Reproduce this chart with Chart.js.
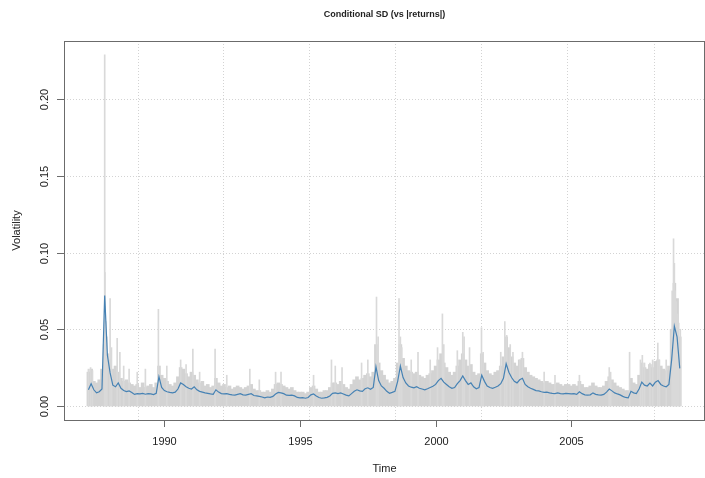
<!DOCTYPE html>
<html>
<head>
<meta charset="utf-8">
<script src="https://cdn.jsdelivr.net/npm/chart.js@4.4.1/dist/chart.umd.min.js"></script>
<style>
  html, body { margin: 0; padding: 0; background: #fff; }
</style>
</head>
<body>
<canvas id="vol-chart" width="705" height="478"></canvas>
<script>
const chartTitle = 'Conditional SD (vs |returns|)';
const xTitle = 'Time';
const yTitle = 'Volatility';

const xTickYears = [1990, 1995, 2000, 2005];
const yTickValues = [0, 0.05, 0.10, 0.15, 0.20];
const yTickLabels = ['0.00', '0.05', '0.10', '0.15', '0.20'];
const gridYears = [1989.02, 1992.17, 1995.34, 1998.52, 2001.69, 2004.85, 2008.04];

// sampled every 0.1 year from 1987.2
const startYear = 1987.2;
const stepYear = 0.1;

// conditional sigma (blue)
const sigma = [
  0.0105, 0.0145, 0.0105, 0.0085, 0.0092, 0.0110, 0.0720, 0.0330,
  0.0215, 0.0135, 0.0125, 0.0150, 0.0115, 0.0100, 0.0093, 0.0098, 0.0088, 0.0075,
  0.0080, 0.0078, 0.0082, 0.0076, 0.0080, 0.0078, 0.0074, 0.0082, 0.0190, 0.0120,
  0.0100, 0.0092, 0.0088, 0.0085, 0.0090, 0.0110, 0.0150, 0.0140, 0.0125, 0.0115,
  0.0110, 0.0125, 0.0105, 0.0095, 0.0090, 0.0085, 0.0082, 0.0078, 0.0075, 0.0105,
  0.0090, 0.0080, 0.0078, 0.0080, 0.0075, 0.0072, 0.0070, 0.0075, 0.0080, 0.0072,
  0.0070, 0.0075, 0.0080, 0.0068, 0.0065, 0.0062, 0.0058, 0.0052, 0.0058, 0.0056,
  0.0062, 0.0078, 0.0088, 0.0085, 0.0080, 0.0070, 0.0068, 0.0070, 0.0065, 0.0055,
  0.0052, 0.0054, 0.0050, 0.0055, 0.0072, 0.0078, 0.0065, 0.0055, 0.0050, 0.0052,
  0.0056, 0.0065, 0.0082, 0.0085, 0.0080, 0.0085, 0.0078, 0.0070, 0.0065, 0.0080,
  0.0095, 0.0105, 0.0098, 0.0095, 0.0112, 0.0118, 0.0108, 0.0120, 0.0255, 0.0165,
  0.0130, 0.0115, 0.0095, 0.0082, 0.0088, 0.0095, 0.0160, 0.0260, 0.0185, 0.0150,
  0.0130, 0.0122, 0.0118, 0.0125, 0.0115, 0.0110, 0.0105, 0.0112, 0.0120, 0.0128,
  0.0140, 0.0165, 0.0180, 0.0155, 0.0140, 0.0125, 0.0115, 0.0120, 0.0145, 0.0165,
  0.0195, 0.0165, 0.0140, 0.0150, 0.0125, 0.0112, 0.0120, 0.0200, 0.0160, 0.0130,
  0.0120, 0.0115, 0.0122, 0.0130, 0.0145, 0.0180, 0.0275, 0.0220, 0.0185, 0.0160,
  0.0150, 0.0170, 0.0180, 0.0140, 0.0125, 0.0115, 0.0108, 0.0100, 0.0098, 0.0092,
  0.0088, 0.0090, 0.0085, 0.0082, 0.0080, 0.0085, 0.0080, 0.0078, 0.0082, 0.0080,
  0.0078, 0.0080, 0.0075, 0.0092, 0.0080, 0.0072, 0.0070, 0.0072, 0.0085, 0.0075,
  0.0072, 0.0070, 0.0075, 0.0090, 0.0110, 0.0098, 0.0085, 0.0078, 0.0072, 0.0062,
  0.0055, 0.0052, 0.0095, 0.0085, 0.0080, 0.0110, 0.0155, 0.0135, 0.0130, 0.0148,
  0.0130, 0.0155, 0.0165, 0.0140, 0.0130, 0.0125, 0.0140, 0.0300, 0.0520, 0.0450,
  0.0245
];

// top of the dense |returns| band (gray)
const absEnvelope = [
  0.022, 0.024, 0.016, 0.015, 0.017, 0.024, 0.040, 0.034,
  0.030, 0.024, 0.026, 0.022, 0.018, 0.016, 0.017, 0.015, 0.014, 0.013,
  0.014, 0.012, 0.015, 0.012, 0.013, 0.014, 0.012, 0.015, 0.026, 0.020,
  0.018, 0.016, 0.014, 0.013, 0.015, 0.019, 0.025, 0.024, 0.021, 0.019,
  0.022, 0.020, 0.017, 0.015, 0.016, 0.013, 0.014, 0.012, 0.013, 0.018,
  0.015, 0.013, 0.014, 0.012, 0.013, 0.011, 0.012, 0.013, 0.012, 0.011,
  0.012, 0.013, 0.014, 0.011, 0.010, 0.010, 0.009, 0.009, 0.010, 0.009,
  0.011, 0.014, 0.015, 0.014, 0.013, 0.012, 0.011, 0.012, 0.010, 0.009,
  0.009, 0.009, 0.008, 0.009, 0.012, 0.013, 0.011, 0.009, 0.009, 0.010,
  0.010, 0.012, 0.015, 0.015, 0.014, 0.016, 0.014, 0.012, 0.011, 0.014,
  0.017, 0.019, 0.017, 0.018, 0.020, 0.021, 0.019, 0.022, 0.040, 0.028,
  0.023, 0.020, 0.017, 0.015, 0.016, 0.018, 0.028, 0.040, 0.031, 0.026,
  0.023, 0.022, 0.021, 0.022, 0.020, 0.019, 0.018, 0.020, 0.021, 0.023,
  0.026, 0.030, 0.034, 0.028, 0.025, 0.022, 0.020, 0.022, 0.026, 0.030,
  0.034, 0.030, 0.026, 0.027, 0.022, 0.020, 0.021, 0.034, 0.028, 0.023,
  0.021, 0.020, 0.022, 0.023, 0.026, 0.032, 0.045, 0.038, 0.032, 0.028,
  0.026, 0.030, 0.031, 0.025, 0.022, 0.020, 0.019, 0.018, 0.017, 0.016,
  0.015, 0.016, 0.015, 0.014, 0.014, 0.015, 0.014, 0.013, 0.014, 0.014,
  0.013, 0.014, 0.013, 0.016, 0.014, 0.012, 0.012, 0.013, 0.015, 0.013,
  0.012, 0.012, 0.013, 0.016, 0.019, 0.017, 0.015, 0.013, 0.012, 0.011,
  0.010, 0.010, 0.018, 0.015, 0.014, 0.020, 0.028, 0.025, 0.024, 0.027,
  0.025, 0.029, 0.030, 0.026, 0.024, 0.023, 0.026, 0.050, 0.080, 0.070,
  0.045
];

// single large |returns| days sticking out of the band
const spikeYears = [
  1987.20, 1987.28, 1987.35, 1987.80, 1987.81, 1987.84, 1987.88, 1988.00, 1988.05, 1988.26,
  1988.36, 1988.50, 1988.70, 1989.00, 1989.30, 1989.78, 1990.09, 1990.60, 1990.80, 1991.05,
  1991.30, 1991.87, 1992.30, 1993.15, 1993.50, 1994.10, 1994.30, 1995.50, 1996.16, 1996.30,
  1996.55, 1997.27, 1997.50, 1997.82, 1997.88, 1998.65, 1998.70, 1998.75, 1999.10, 1999.35,
  1999.80, 2000.07, 2000.25, 2000.30, 2000.80, 2001.00, 2001.05, 2001.25, 2001.69, 2001.75,
  2002.40, 2002.55, 2002.62, 2002.75, 2002.85, 2003.10, 2003.20, 2004.00, 2004.40, 2005.30,
  2006.40, 2006.45, 2007.15, 2007.55, 2007.62, 2007.70, 2007.90, 2008.00, 2008.19, 2008.25,
  2008.50, 2008.72, 2008.77, 2008.80, 2008.83, 2008.87, 2008.92, 2008.96, 2009.02
];
const spikeValues = [
  0.024, 0.025, 0.023, 0.229, 0.087, 0.055, 0.045, 0.070, 0.038, 0.044,
  0.035, 0.026, 0.024, 0.022, 0.024, 0.063, 0.026, 0.030, 0.027, 0.037,
  0.022, 0.037, 0.020, 0.024, 0.017, 0.022, 0.022, 0.020, 0.030, 0.026,
  0.025, 0.028, 0.030, 0.071, 0.045, 0.070, 0.045, 0.038, 0.030, 0.035,
  0.030, 0.038, 0.060, 0.040, 0.036, 0.048, 0.045, 0.038, 0.051, 0.035,
  0.035, 0.055, 0.046, 0.040, 0.035, 0.030, 0.035, 0.022, 0.020, 0.020,
  0.025, 0.022, 0.035, 0.030, 0.033, 0.028, 0.028, 0.030, 0.041, 0.030,
  0.030, 0.075, 0.109, 0.093, 0.075, 0.068, 0.060, 0.054, 0.050
];

const sigmaPoints = sigma.map((v, i) => ({ x: startYear + i * stepYear, y: v }));
const envelopePoints = absEnvelope.map((v, i) => ({ x: startYear + i * stepYear, y: v }));
const spikePoints = spikeYears.map((t, i) => ({ x: t, y: spikeValues[i] }));

const axisColor = '#6b6b6b';
const textFont = '"Liberation Sans", Arial, sans-serif';

// R-style box, ticks, grid and labels
const rFrame = {
  id: 'rFrame',
  beforeDatasetsDraw(chart) {
    const { ctx, chartArea: a, scales: { x, y } } = chart;
    ctx.save();
    ctx.strokeStyle = '#d3d3d3';
    ctx.lineWidth = 1;
    ctx.setLineDash([1, 2]);
    gridYears.forEach(g => {
      const px = Math.round(x.getPixelForValue(g)) + 0.5;
      ctx.beginPath(); ctx.moveTo(px, a.top); ctx.lineTo(px, a.bottom); ctx.stroke();
    });
    yTickValues.forEach(v => {
      const py = Math.round(y.getPixelForValue(v)) + 0.5;
      ctx.beginPath(); ctx.moveTo(a.left, py); ctx.lineTo(a.right, py); ctx.stroke();
    });
    ctx.restore();
  },
  afterDraw(chart) {
    const { ctx, chartArea: a, scales: { x, y } } = chart;
    ctx.save();
    ctx.strokeStyle = axisColor;
    ctx.lineWidth = 1;
    ctx.strokeRect(a.left + 0.5, a.top + 0.5, a.right - a.left - 1, a.bottom - a.top);

    ctx.fillStyle = '#222';
    ctx.font = '11px ' + textFont;
    ctx.textAlign = 'center';
    ctx.textBaseline = 'middle';
    xTickYears.forEach(t => {
      const px = Math.round(x.getPixelForValue(t)) + 0.5;
      ctx.beginPath(); ctx.moveTo(px, a.bottom); ctx.lineTo(px, a.bottom + 7); ctx.stroke();
      ctx.fillText(String(t), px, a.bottom + 22);
    });
    yTickValues.forEach((v, i) => {
      const py = Math.round(y.getPixelForValue(v)) + 0.5;
      ctx.beginPath(); ctx.moveTo(a.left, py); ctx.lineTo(a.left - 7, py); ctx.stroke();
      ctx.save();
      ctx.translate(a.left - 19, py);
      ctx.rotate(-Math.PI / 2);
      ctx.fillText(yTickLabels[i], 0, 0);
      ctx.restore();
    });

    ctx.fillText(xTitle, (a.left + a.right) / 2, 469);
    ctx.save();
    ctx.translate(17, (a.top + a.bottom) / 2);
    ctx.rotate(-Math.PI / 2);
    ctx.fillText(yTitle, 0, 0);
    ctx.restore();

    ctx.font = 'bold 9px ' + textFont;
    ctx.fillText(chartTitle, (a.left + a.right) / 2, 15);
    ctx.restore();
  }
};

const volCanvas = document.getElementById('vol-chart');

let volChart = new Chart(volCanvas, {
  type: 'line',
  data: {
    datasets: [
      {
        label: 'sigma',
        data: sigmaPoints,
        borderColor: '#4682b4',
        borderWidth: 1.2,
        pointRadius: 0,
        tension: 0,
        fill: false
      },
      {
        type: 'bar',
        label: '|returns| spikes',
        data: spikePoints,
        backgroundColor: '#d9d9d9',
        barThickness: 1,
        grouped: false
      },
      {
        type: 'bar',
        label: '|returns|',
        data: envelopePoints,
        backgroundColor: '#d3d3d3',
        borderWidth: 0,
        barThickness: 3,
        grouped: false
      }
    ]
  },
  options: {
    responsive: false,
    animation: false,
    devicePixelRatio: 1,
    layout: { padding: { left: 64, right: 0, top: 41, bottom: 58 } },
    scales: {
      x: { type: 'linear', min: 1986.3, max: 2009.93, offset: false, display: false },
      y: { type: 'linear', min: -0.0092, max: 0.238, display: false }
    },
    plugins: {
      legend: { display: false },
      tooltip: { enabled: false }
    }
  },
  plugins: [rFrame]
});
</script>
</body>
</html>
